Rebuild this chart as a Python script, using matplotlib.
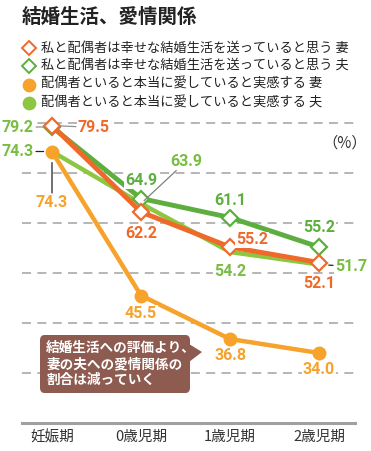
import matplotlib
matplotlib.use("Agg")
import matplotlib.pyplot as plt
from matplotlib.lines import Line2D
from matplotlib.patches import FancyBboxPatch, Polygon

plt.rcParams["font.family"] = ["Noto Sans CJK JP", "DejaVu Sans"]

periods = ["妊娠期", "0歳児期", "1歳児期", "2歳児期"]
wife_happy = [79.5, 62.2, 55.2, 52.1]
husband_happy = [79.2, 64.9, 61.1, 55.2]
wife_love = [74.3, 45.5, 36.8, 34.0]
husband_love = [74.3, 63.9, 54.2, 51.7]

legend_labels = [
    "私と配偶者は幸せな結婚生活を送っていると思う 妻",
    "私と配偶者は幸せな結婚生活を送っていると思う 夫",
    "配偶者といると本当に愛していると実感する 妻",
    "配偶者といると本当に愛していると実感する 夫",
]

C_WH = "#EF6A2A"
C_HH = "#5CAF3E"
C_WL = "#F7A22A"
C_HL = "#8DC641"
C_LBL_G = "#79BD42"
NUM_FONT = ["Roboto", "DejaVu Sans"]
W, H = 371, 451

fig = plt.figure(figsize=(W / 100, H / 100), dpi=100)
ax = fig.add_axes([22 / W, 1 - 423 / H, 333 / W, (423 - 105) / H])
x = range(len(periods))
ax.set_xlim(-0.337, 3.404)
ax.set_ylim(20, 83.6)

for v in [30, 40, 50, 60, 70, 80]:
    ax.axhline(v, color="#B0B0B0", lw=1.3, ls=(0, (5, 3.5)), zorder=0)
ax.axhline(20, color="#A0A0A0", lw=2.2, zorder=1, clip_on=False)

ax.plot(x, husband_love, color=C_HL, lw=3.2, zorder=2)
ax.plot(x, wife_love, color=C_WL, lw=3.2, marker="o", ms=9, zorder=3)
ax.plot(x, husband_happy, color=C_HH, lw=3.5, zorder=4)
ax.plot(x, wife_happy, color=C_WH, lw=3.5, zorder=5)
ax.plot(x, husband_happy, ls="none", marker="D", ms=8.5, mfc="white",
        mec=C_HH, mew=1.6, zorder=6)
ax.plot(x, wife_happy, ls="none", marker="D", ms=8.5, mfc="white",
        mec=C_WH, mew=1.6, zorder=7)

for s in ax.spines.values():
    s.set_visible(False)
ax.set_yticks([])
ax.set_xticks(list(x))
ax.set_xticklabels(periods, fontsize=10.5, color="#333333")
ax.tick_params(axis="x", length=0, pad=5)


def label(i, series, text, color, dx, dy, ha="center", line=None, shrink=6):
    kw = {}
    if line is not None:
        kw["arrowprops"] = dict(arrowstyle="-", color=line, lw=0.9,
                                shrinkA=1, shrinkB=shrink)
    ax.annotate(text, (i, series[i]), xytext=(dx, dy), textcoords="offset pixels",
                ha=ha, va="center", fontsize=11.5, color=color,
                fontweight="bold", family=NUM_FONT, zorder=10,
                bbox=dict(fc="white", ec="none", pad=0.5), **kw)


label(0, husband_happy, "79.2", C_LBL_G, -18, 0, ha="right", line="#909090")
label(0, wife_happy, "79.5", C_WH, 26, -2, ha="left", line="#909090")
label(0, husband_love, "74.3", C_LBL_G, -18, 0, ha="right", line="#222222")
label(0, wife_love, "74.3", C_WL, 0, -51, line="#222222", shrink=8)
label(1, husband_happy, "64.9", C_HH, 0, 18)
label(1, husband_love, "63.9", C_LBL_G, 45, 42, line="#808080", shrink=3)
label(1, wife_happy, "62.2", C_WH, 0, -22)
label(1, wife_love, "45.5", C_WL, 0, -18)
label(2, husband_happy, "61.1", C_HH, 0, 17)
label(2, wife_happy, "55.2", C_WH, 6, 7, ha="left")
label(2, husband_love, "54.2", C_LBL_G, 0, -20)
label(2, wife_love, "36.8", C_WL, 0, -16)
label(3, husband_happy, "55.2", C_HH, 0, 19)
label(3, wife_happy, "52.1", C_WH, 0, -21)
label(3, husband_love, "51.7", C_LBL_G, 16, -2, ha="left", line="#222222", shrink=7)
label(3, wife_love, "34.0", C_WL, 0, -16)

fig.text(345 / W, 1 - 143 / H, "（%）", fontsize=11, color="#333333",
         ha="center", va="center")

# title and legend
fig.text(22 / W, 1 - 17 / H, "結婚生活、愛情関係", fontsize=14, fontweight="bold",
         color="#222222", va="center")
legend_marks = [("D", C_WH, "white"), ("D", C_HH, "white"),
                ("o", C_WL, C_WL), ("o", C_HL, C_HL)]
for k, (lab, (m, ec, fc)) in enumerate(zip(legend_labels, legend_marks)):
    yy = 1 - (48 + 18.3 * k) / H
    fig.add_artist(Line2D([29 / W], [yy], transform=fig.transFigure, marker=m,
                          ms=7.5 if m == "D" else 8.5, mfc=fc, mec=ec, mew=1.4))
    fig.text(41 / W, yy, lab, fontsize=9.5, color="#222222", va="center")

# callout
box = FancyBboxPatch((40 / W, 1 - 393 / H), 150 / W, 58 / H,
                     boxstyle="round,pad=0,rounding_size=0.012",
                     transform=fig.transFigure, fc="#8D5B4F", ec="none", zorder=20)
fig.add_artist(box)
tri = Polygon([(189 / W, 1 - 344 / H), (202 / W, 1 - 352 / H), (189 / W, 1 - 362 / H)],
              closed=True, transform=fig.transFigure, fc="#8D5B4F", ec="none", zorder=20)
fig.add_artist(tri)
fig.text(46 / W, 1 - 364 / H, "結婚生活への評価より、\n妻の夫への愛情関係の\n割合は減っていく",
         fontsize=9.8, fontweight="bold", color="white", va="center", ha="left",
         linespacing=1.2, zorder=21)

fig.savefig("out.png", dpi=100)
